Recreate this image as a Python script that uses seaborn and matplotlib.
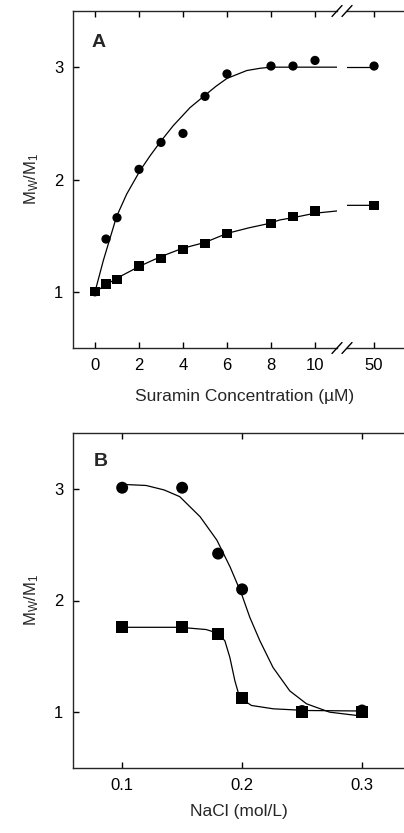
import numpy as np
import pandas as pd
import matplotlib
matplotlib.use('Agg')
import matplotlib.pyplot as plt
import seaborn as sns

sns.set_style("ticks")
plt.rcParams['font.family'] = ['Liberation Sans', 'DejaVu Sans']
plt.rcParams['mathtext.default'] = 'regular'
plt.rcParams['axes.linewidth'] = 1.0

# ---- Panel A data (suramin titration) ----
sur_circ_x = [0, 0.5, 1, 2, 3, 4, 5, 6, 8, 9, 10, 50]
sur_circ_y = [1.0, 1.47, 1.66, 2.09, 2.33, 2.41, 2.74, 2.94, 3.01, 3.01, 3.06, 3.01]
sur_sq_x = [0, 0.5, 1, 2, 3, 4, 5, 6, 8, 9, 10, 50]
sur_sq_y = [1.0, 1.07, 1.11, 1.23, 1.30, 1.38, 1.43, 1.52, 1.61, 1.67, 1.72, 1.77]

# fitted curves
fit_circ_x = [0, 0.38, 0.98, 1.44, 2.05, 2.5, 2.95, 3.56, 4.32, 5.0, 5.5, 6.0, 6.9, 7.5, 8.0, 10, 12, 48, 50]
fit_circ_y = [1.0, 1.28, 1.67, 1.87, 2.08, 2.21, 2.33, 2.48, 2.64, 2.75, 2.83, 2.90, 2.97, 2.99, 3.0, 3.0, 3.0, 3.0, 3.0]
fit_sq_x = [0, 0.98, 2.05, 2.95, 3.94, 5.0, 6.0, 7.0, 7.95, 8.4, 9, 10, 11, 12, 48, 50]
fit_sq_y = [1.0, 1.12, 1.23, 1.31, 1.385, 1.44, 1.52, 1.57, 1.61, 1.64, 1.66, 1.70, 1.72, 1.74, 1.77, 1.77]

# ---- Panel B data (NaCl) ----
nacl_x = [0.10, 0.15, 0.18, 0.20, 0.25, 0.30]
nacl_circ_y = [3.01, 3.01, 2.42, 2.10, 1.01, 1.015]
nacl_sq_y = [1.76, 1.76, 1.70, 1.13, 1.00, 1.00]

fitb_circ_x = [0.10, 0.12, 0.135, 0.148, 0.165, 0.179, 0.190, 0.1995, 0.2064, 0.2148, 0.2258, 0.2398, 0.2537, 0.273, 0.3037]
fitb_circ_y = [3.04, 3.03, 2.99, 2.93, 2.75, 2.54, 2.30, 2.06, 1.85, 1.64, 1.40, 1.19, 1.075, 1.0, 0.96]
fitb_sq_x = [0.10, 0.148, 0.17, 0.179, 0.1856, 0.1898, 0.194, 0.198, 0.2078, 0.226, 0.2535, 0.3037]
fitb_sq_y = [1.76, 1.76, 1.74, 1.71, 1.64, 1.49, 1.28, 1.13, 1.06, 1.03, 1.015, 1.01]

W, H = 404, 833
fig = plt.figure(figsize=(W / 100, H / 100), dpi=100)


def frac(x0, y0, x1, y1):
    return [x0 / W, 1 - y1 / H, (x1 - x0) / W, (y1 - y0) / H]


axA1 = fig.add_axes(frac(73, 11, 337, 348))
axA2 = fig.add_axes(frac(347, 11, 404, 348))
axB = fig.add_axes(frac(73, 433, 404, 768))

msA = 44
msB = 74
lw = 0.9

for ax in (axA1, axA2):
    sns.lineplot(x=fit_circ_x, y=fit_circ_y, ax=ax, color='black', lw=lw,
                 estimator=None, sort=False, zorder=2)
    sns.lineplot(x=fit_sq_x, y=fit_sq_y, ax=ax, color='black', lw=lw,
                 estimator=None, sort=False, zorder=2)
    sns.scatterplot(x=sur_circ_x, y=sur_circ_y, ax=ax, color='black', marker='o',
                    s=msA, edgecolor='none', zorder=3)
    sns.scatterplot(x=sur_sq_x, y=sur_sq_y, ax=ax, color='black', marker='s',
                    s=msA, edgecolor='none', zorder=4)
    ax.set_ylim(0.5, 3.5)

axA1.set_xlim(-1, 11)
axA2.set_xlim(48.77, 51.36)
axA1.set_xticks([0, 2, 4, 6, 8, 10])
axA2.set_xticks([50])
axA1.set_yticks([1, 2, 3])
axA2.set_yticks([])
axA1.spines['right'].set_visible(False)
axA2.spines['left'].set_visible(False)
axA2.spines['right'].set_visible(False)

sns.lineplot(x=fitb_circ_x, y=fitb_circ_y, ax=axB, color='black', lw=lw,
             estimator=None, sort=False)
sns.lineplot(x=fitb_sq_x, y=fitb_sq_y, ax=axB, color='black', lw=lw,
             estimator=None, sort=False)
sns.scatterplot(x=nacl_x, y=nacl_circ_y, ax=axB, color='black', marker='o',
                s=msB, edgecolor='none', zorder=3)
sns.scatterplot(x=nacl_x, y=nacl_sq_y, ax=axB, color='black', marker='s',
                s=msB, edgecolor='none', zorder=4)
axB.set_xlim(0.059, 0.335)
axB.set_ylim(0.5, 3.5)
axB.set_xticks([0.1, 0.2, 0.3])
axB.set_xticklabels(['0.1', '0.2', '0.3'])
axB.set_yticks([1, 2, 3])
axB.spines['right'].set_visible(False)

fs = 12
for ax in (axA1, axA2, axB):
    ax.tick_params(direction='in', length=4, width=1, top=True, labelsize=fs,
                   pad=7, colors='black')

ylab = 'M$_{W}$/M$_{1}$'
axA1.set_ylabel(ylab, fontsize=fs, labelpad=9)
axB.set_ylabel(ylab, fontsize=fs, labelpad=9)
axA1.set_xlabel('')
axA2.set_xlabel('')
fig.text(245 / W, 1 - 396 / H, 'Suramin Concentration (\u00b5M)',
         ha='center', va='center', fontsize=fs + 0.5)
axB.set_xlabel('NaCl (mol/L)', fontsize=fs + 0.5, labelpad=8)

axA1.text(0.072, 0.908, 'A', transform=axA1.transAxes, fontsize=14,
          fontweight='bold', va='center', ha='left')
axB.text(0.063, 0.914, 'B', transform=axB.transAxes, fontsize=14,
         fontweight='bold', va='center', ha='left')

# break marks on the x axis of panel A
dx, dy = 5 / W, 5.5 / H
for xb in (337 / W, 347 / W):
    for yb in (1 - 11 / H, 1 - 348 / H):
        fig.add_artist(plt.Line2D([xb - dx, xb + dx], [yb - dy, yb + dy],
                                  color='black', lw=1.0))

fig.savefig('out.png', dpi=100)
